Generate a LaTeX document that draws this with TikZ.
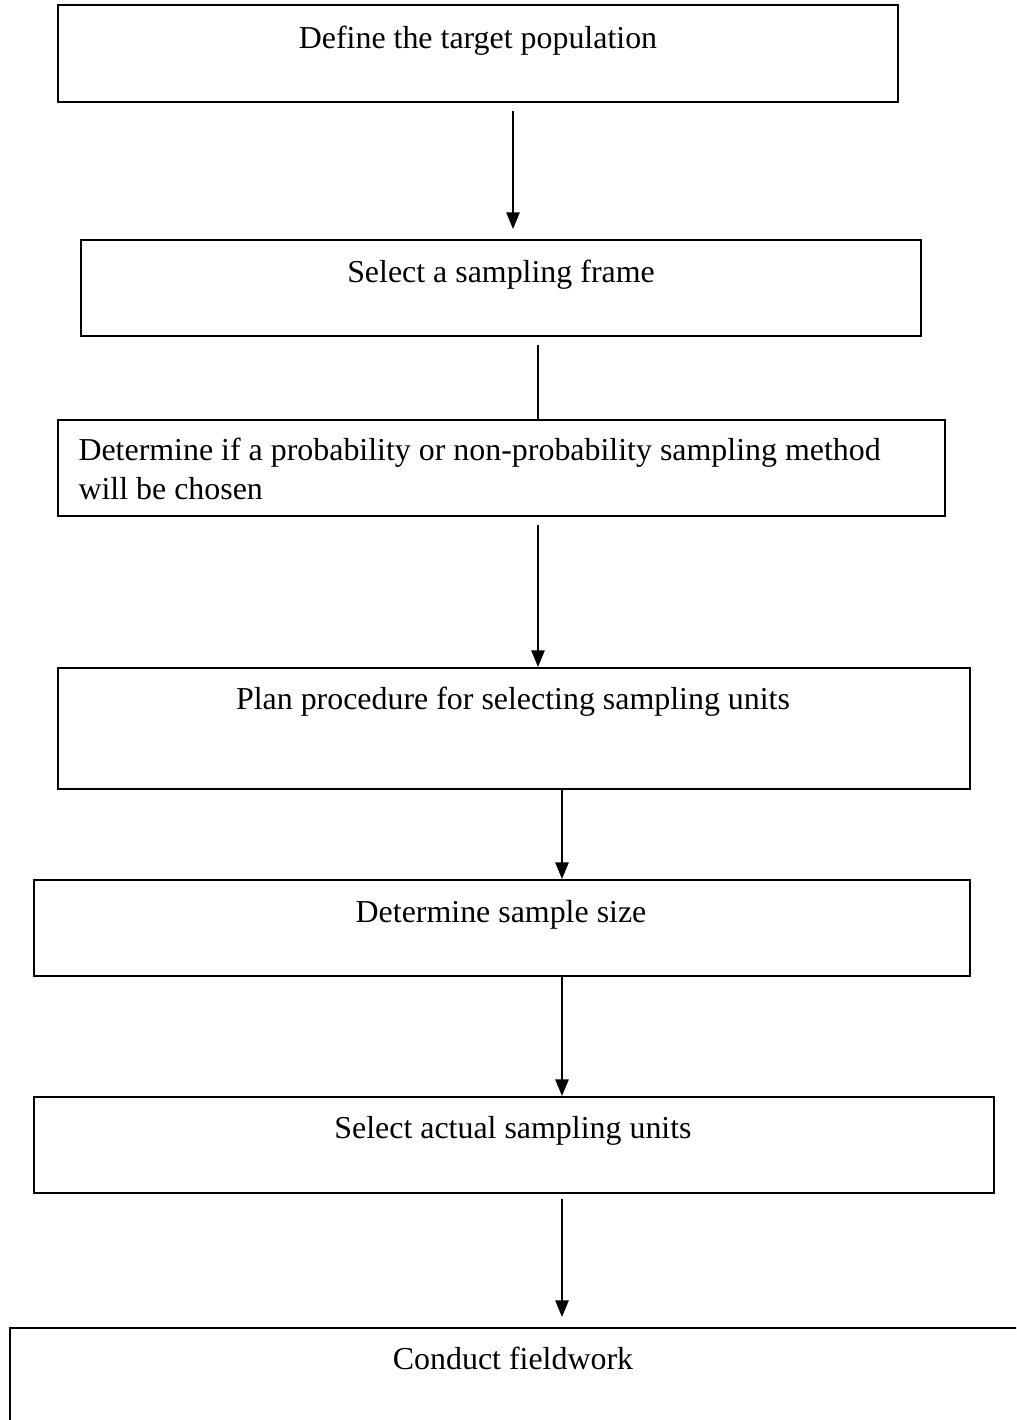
\documentclass[tikz,border=0pt]{standalone}
\usepackage{fontspec}
\setmainfont{Liberation Serif}
\usetikzlibrary{arrows.meta,fit,calc}
\begin{document}
\begin{tikzpicture}[x=0.376pt,y=-0.376pt,
  box/.style={draw,line width=0.75pt,inner sep=0pt},
  lbl/.style={font=\fontsize{12}{14.5}\selectfont,inner sep=0pt,anchor=base},
  arr/.style={line width=0.75pt,-{Triangle[width=5pt,length=6.3pt]}},
  ln/.style={line width=0.75pt}]
\useasboundingbox (0,0) rectangle (1016,1420);
\clip (0,0) rectangle (1016,1420);
% boxes
\node[box,fit={(58,5)(898,102)}] (b1) {};
\node[box,fit={(81,240)(921,336)}] (b2) {};
\node[box,fit={(58,420)(945,516)}] (b3) {};
\node[box,fit={(58,668)(970,789)}] (b4) {};
\node[box,fit={(34,880)(970,976)}] (b5) {};
\node[box,fit={(34,1097)(994,1193)}] (b6) {};
\node[box,fit={(10,1328)(1040,1450)}] (b7) {};
% texts
\node[lbl] (t1) at (478,48) {Define the target population};
\node[lbl] (t2) at (501,282) {Select a sampling frame};
\node[lbl,anchor=base west,align=left] (t3) at (78,499) {Determine if a probability or non-probability sampling method\\will be chosen};
\node[lbl] (t4) at (513,709) {Plan procedure for selecting sampling units};
\node[lbl] (t5) at (501,922) {Determine sample size};
\node[lbl] (t6) at (513,1138) {Select actual sampling units};
\node[lbl] (t7) at (513,1369) {Conduct fieldwork};
% connector columns
\coordinate (c1) at (513,0);
\coordinate (c2) at (538,0);
\coordinate (c4) at (562,0);
% connectors
\draw[arr] ([yshift=-8*0.376pt]b1.south -| c1) -- ([yshift=10*0.376pt]b2.north -| c1);
\draw[ln] ([yshift=-8*0.376pt]b2.south -| c2) -- (b3.north -| c2);
\draw[arr] ([yshift=-8*0.376pt]b3.south -| c2) -- (b4.north -| c2);
\draw[arr] (b4.south -| c4) -- (b5.north -| c4);
\draw[arr] (b5.south -| c4) -- (b6.north -| c4);
\draw[arr] ([yshift=-5*0.376pt]b6.south -| c4) -- ([yshift=10*0.376pt]b7.north -| c4);
\end{tikzpicture}
\end{document}
